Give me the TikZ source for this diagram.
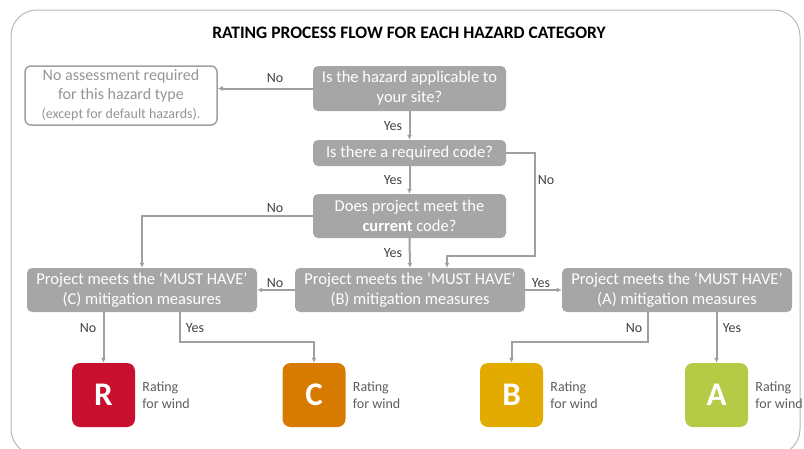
\documentclass[tikz,border=0pt]{standalone}
\usepackage{fontspec}
\setmainfont{Carlito}
\usetikzlibrary{arrows.meta}
\definecolor{boxgray}{HTML}{A6A6A6}
\definecolor{linegray}{HTML}{A0A0A0}
\definecolor{framegray}{HTML}{B8B8B8}
\definecolor{labtext}{HTML}{404040}
\definecolor{ratR}{HTML}{C8102E}
\definecolor{ratC}{HTML}{D67B00}
\definecolor{ratB}{HTML}{E3AA00}
\definecolor{ratA}{HTML}{B6CB45}
\tikzset{
  qbox/.style={rectangle, rounded corners=5pt, fill=boxgray, text=white, align=center,
    inner sep=0pt, font=\fontsize{16.5}{20}\selectfont},
  whitebox/.style={rectangle, rounded corners=6pt, draw=linegray, line width=1.5pt, fill=white,
    text=boxgray!90!black, align=center, inner sep=0pt, font=\fontsize{16}{19}\selectfont},
  ratebox/.style={rectangle, rounded corners=8pt, minimum width=63pt, minimum height=64pt,
    text=white, inner sep=0pt, font=\fontsize{33}{33}\selectfont\bfseries},
  conn/.style={draw=linegray, line width=2pt, -{Latex[length=5pt,width=5pt]}},
  lab/.style={text=labtext, font=\fontsize{14}{16}\selectfont, inner sep=0pt},
  ratetext/.style={text=labtext!85, font=\fontsize{14}{17}\selectfont, align=left, anchor=west, inner sep=0pt}
}
\begin{document}
\begin{tikzpicture}[x=1pt,y=-1pt]
\useasboundingbox (0,0) rectangle (804,448);
\draw[framegray, line width=1pt, rounded corners=26pt] (11,10) rectangle (800,455);
\node[font=\fontsize{17.5}{19}\selectfont\bfseries, text=black] (title) at (409,33) {RATING PROCESS FLOW FOR EACH HAZARD CATEGORY};

\node[whitebox, minimum width=192pt, minimum height=59pt] (n1) at (121,95.5)
  {No assessment required\\for this hazard type\\{\fontsize{14}{17}\selectfont (except for default hazards).}};
\node[qbox, minimum width=193pt, minimum height=45pt] (q1) at (409.5,88.5) {Is the hazard applicable to\\your site?};
\node[qbox, minimum width=193pt, minimum height=26pt] (q2) at (409.5,153) {Is there a required code?};
\node[qbox, minimum width=193pt, minimum height=44pt] (q3) at (409.5,216) {Does project meet the\\\textbf{current} code?};

\node[qbox, minimum width=230pt, minimum height=44pt] (mc) at (142,290) {Project meets the ‘MUST HAVE’\\(C) mitigation measures};
\node[qbox, minimum width=230pt, minimum height=44pt] (mb) at (410,290) {Project meets the ‘MUST HAVE’\\(B) mitigation measures};
\node[qbox, minimum width=230pt, minimum height=44pt] (ma) at (677,290) {Project meets the ‘MUST HAVE’\\(A) mitigation measures};

\node[ratebox, fill=ratR] (rR) at (103.5,395) {R};
\node[ratebox, fill=ratC] (rC) at (314,395) {C};
\node[ratebox, fill=ratB] (rB) at (511.5,395) {B};
\node[ratebox, fill=ratA] (rA) at (716.5,395) {A};

\node[ratetext] (tR) at ([xshift=7pt]rR.east) {Rating\\for wind};
\node[ratetext] (tC) at ([xshift=7pt]rC.east) {Rating\\for wind};
\node[ratetext] (tB) at ([xshift=7pt]rB.east) {Rating\\for wind};
\node[ratetext] (tA) at ([xshift=7pt]rA.east) {Rating\\for wind};

% connectors
\draw[conn] (q1.west) -- (q1.west -| n1.east);
\draw[conn] (q1.south) -- (q2.north);
\draw[conn] (q2.south) -- (q3.north);
\coordinate (k1) at (535,256);
\draw[conn] (q2.east) -| (k1) -| ([xshift=37pt]mb.north);
\draw[conn] (q3.south) -- (mb.north);
\draw[conn] (q3.west) -| (mc.north);
\draw[conn] (mb.west) -- (mc.east);
\draw[conn] (mb.east) -- (ma.west);
\draw[conn] (rR.north |- mc.south) -- (rR.north);
\draw[conn] ([xshift=38pt]mc.south) -- ++(0,30) -| (rC.north);
\draw[conn] ([xshift=-29pt]ma.south) -- ++(0,30) -| (rB.north);
\draw[conn] (rA.north |- ma.south) -- (rA.north);

% labels
\node[lab] (l1) at (275,78) {No};
\node[lab] (l2) at (393,126) {Yes};
\node[lab] (l3) at (393,180) {Yes};
\node[lab] (l4) at (546,180) {No};
\node[lab] (l5) at (275,208) {No};
\node[lab] (l6) at (393,253) {Yes};
\node[lab] (l7) at (275,283) {No};
\node[lab] (l8) at (541,283) {Yes};
\node[lab] (l9) at (88,328) {No};
\node[lab] (l10) at (195,328) {Yes};
\node[lab] (l11) at (634,328) {No};
\node[lab] (l12) at (732,328) {Yes};
\end{tikzpicture}
\end{document}
